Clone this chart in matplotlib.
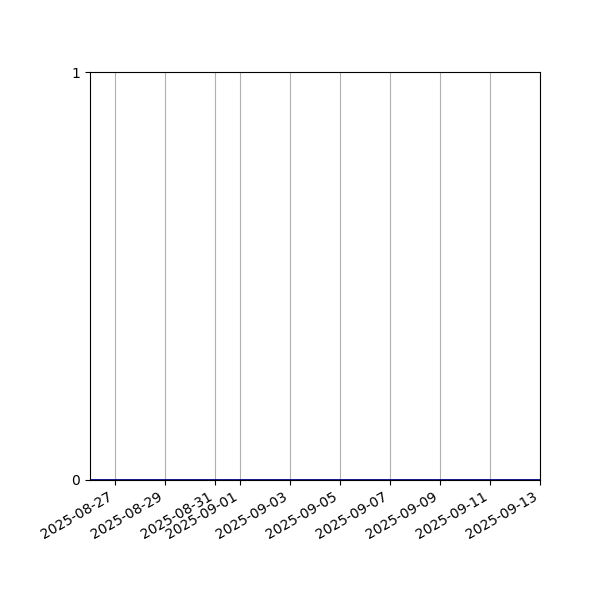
import matplotlib
matplotlib.use('Agg')
import matplotlib.pyplot as plt
import matplotlib.dates as mdates
import numpy as np
import pandas as pd

dates = pd.date_range('2025-08-26', '2025-09-13', freq='D')
values = [0] * len(dates)

fig, ax = plt.subplots(figsize=(6, 6), dpi=100)
ax.plot(dates, values, color='darkblue', linewidth=2)
ax.set_xlim(dates[0], dates[-1])
ax.set_ylim(0, 1)
ax.set_yticks([0, 1])
ax.xaxis.set_major_formatter(mdates.DateFormatter('%Y-%m-%d'))
ax.grid(True, axis='x', color='#b0b0b0')
fig.autofmt_xdate()
fig.subplots_adjust(left=0.15, right=0.9, top=0.88, bottom=0.2)
fig.savefig('out.png')
